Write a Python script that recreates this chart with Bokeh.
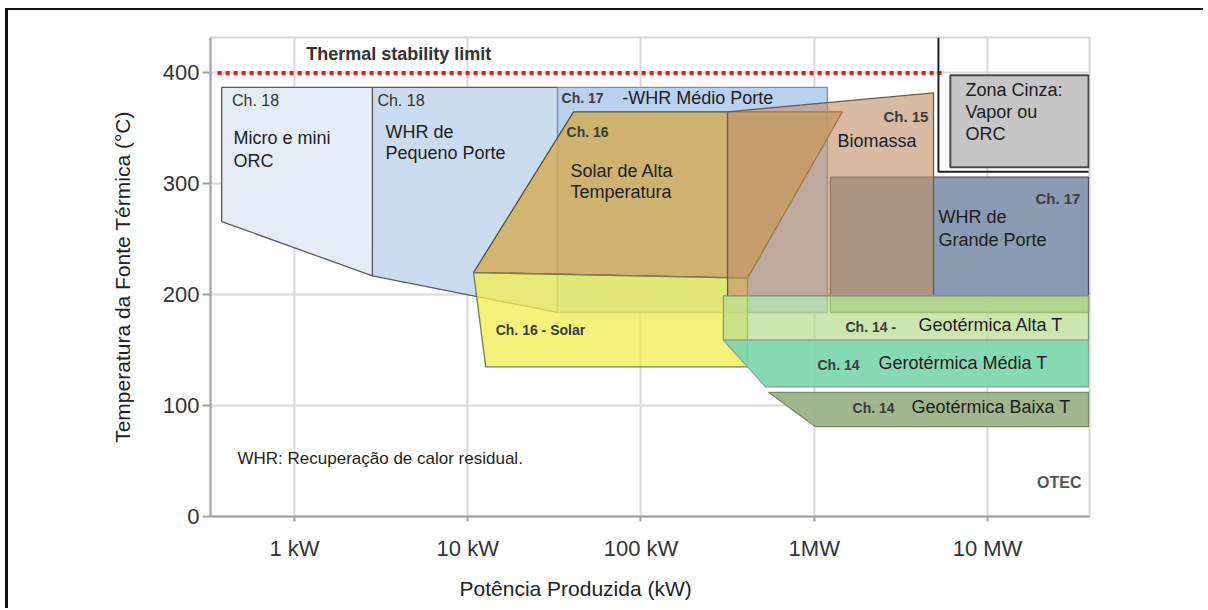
from bokeh.plotting import figure
from bokeh.models import ColumnDataSource, FixedTicker, Range1d, Title
from bokeh.core.properties import value
from bokeh.embed import file_html
from bokeh.resources import INLINE

FONT = "Liberation Sans"

# ---------------- data (power in kW, temperature in °C) ----------------
micro_kw = [0.38, 2.82, 2.82, 0.38]
micro_t = [387, 387, 217, 266]

whr_peq_kw = [2.82, 33.0, 33.0, 2.82]
whr_peq_t = [387, 387, 184, 217]

whr_med_kw = [33.0, 1190, 1190, 33.0]
whr_med_t = [387, 387, 184, 184]

solar_alta_kw = [10.8, 40.8, 1456, 412]
solar_alta_t = [220, 365, 365, 215]

solar_kw = [10.8, 412, 412, 12.7]
solar_t = [220, 215, 135, 135]

whr_gr_kw = [1240, 38300, 38300, 1240]
whr_gr_t = [306, 306, 199, 199]

bio_kw = [316, 4880, 4880, 316]
bio_t = [365, 382, 199, 199]

geo_alta_sup_kw = [1240, 38300, 38300, 1240]
geo_alta_sup_t = [199, 199, 184, 184]

geo_alta_kw = [299, 38300, 38300, 299]
geo_alta_t = [199, 199, 159, 159]

geo_med_kw = [299, 38300, 38300, 523]
geo_med_t = [159, 159, 117, 117]

geo_baixa_kw = [545, 38300, 38300, 1016]
geo_baixa_t = [112, 112, 81, 81]

cinza_kw = [6100, 38300, 38300, 6100]
cinza_t = [398, 398, 315, 315]

cinza_frame_kw = [5210, 5210, 38300]
cinza_frame_t = [432, 311, 311]

limit_kw = [0.36, 5700]
limit_t = [400, 400]

tick_kw = [1, 10, 100, 1000, 10000]
tick_labels = ["1 kW", "10 kW", "100 kW", "1MW", "10 MW"]
tick_t = [0, 100, 200, 300, 400]

# labels
main_text = ["Micro e mini", "ORC", "WHR de", "Pequeno Porte", "-WHR Médio Porte",
             "Solar de Alta", "Temperatura", "Biomassa", "Zona Cinza:", "Vapor ou", "ORC",
             "WHR de", "Grande Porte", "Geotérmica Alta T", "Gerotérmica Média T",
             "Geotérmica Baixa T"]
main_kw = [0.445, 0.445, 3.35, 3.35, 78, 39.2, 39.2, 1362, 7465, 7465, 7465,
           5213, 5213, 4000, 2350, 3640]
main_t = [341, 321, 347, 328, 377, 312, 292.5, 339, 385, 364.5, 345,
          270, 249, 173, 138.6, 99]

ch18_text = ["Ch. 18", "Ch. 18"]
ch18_kw = [0.436, 3.01]
ch18_t = [375, 375]

ch_text = ["Ch. 17", "Ch. 16", "Ch. 16 - Solar", "Ch. 14 -", "Ch. 14", "Ch. 14"]
ch_kw = [34.8, 37.2, 14.5, 1515, 1044, 1663]
ch_t = [377, 346.5, 168, 171, 137, 98]

chr_text = ["Ch. 15", "Ch. 17"]
chr_kw = [4560, 34400]
chr_t = [361, 287]

# ---------------- figure ----------------
p = figure(width=1198, height=600, x_axis_type="log",
           x_range=Range1d(0.3275, 38790), y_range=Range1d(0, 432),
           output_backend="svg", toolbar_location=None,
           min_border_left=202, min_border_right=117,
           min_border_top=27, min_border_bottom=90)
p.styles = {"border-top": "2px solid #111111", "border-left": "3px solid #111111",
            "margin-left": "5px", "margin-top": "8px"}

p.outline_line_color = "#d4d4d4"
p.outline_line_width = 2
p.background_fill_color = "white"

p.xgrid.ticker = FixedTicker(ticks=tick_kw)
p.ygrid.ticker = FixedTicker(ticks=tick_t)
for g in (p.xgrid, p.ygrid):
    g.grid_line_color = "#d9d9d9"
    g.grid_line_width = 2

p.xaxis.ticker = FixedTicker(ticks=tick_kw)
p.xaxis.major_label_overrides = dict(zip(tick_kw, tick_labels))
p.yaxis.ticker = FixedTicker(ticks=tick_t)

for ax in (p.xaxis, p.yaxis):
    ax.axis_line_color = "#a0a0a0"
    ax.axis_line_width = 2
    ax.major_tick_line_color = "#a0a0a0"
    ax.major_tick_line_width = 2
    ax.major_tick_in = 0
    ax.minor_tick_line_color = None
    ax.major_label_text_font = FONT
    ax.major_label_text_font_size = "22px"
    ax.major_label_text_color = "#333333"
p.yaxis.major_tick_out = 8
p.yaxis.major_label_standoff = 3
p.xaxis.major_tick_out = 5
p.xaxis.major_label_standoff = 14

p.yaxis.axis_label = "Temperatura da Fonte Térmica (°C)"
p.yaxis.axis_label_text_font = FONT
p.yaxis.axis_label_text_font_size = "21px"
p.yaxis.axis_label_text_font_style = "normal"
p.yaxis.axis_label_text_color = "#222222"
p.yaxis.axis_label_standoff = 26

# x axis title, placed left of centre as in the reference
p.add_layout(Title(text="Potência Produzida (kW)", align="left", offset=249,
                   text_font=FONT, text_font_size="21px", text_font_style="normal",
                   text_color="#222222", standoff=22), "below")

# ---------------- regions ----------------
LINE = "#5a5a5a"
regions = [
    (micro_kw, micro_t, "#e4ecf7", 1.0, LINE),
    (whr_peq_kw, whr_peq_t, "#cbdbf0", 1.0, LINE),
    (whr_med_kw, whr_med_t, "#b9d1f0", 1.0, "#7d8ea8"),
    (solar_alta_kw, solar_alta_t, "#d4aa50", 0.8, "#5e5226"),
    (solar_kw, solar_t, "#f2ee50", 0.75, "#7a7a50"),
    (whr_gr_kw, whr_gr_t, "#8a9ab2", 1.0, "#4a4f5a"),
    (bio_kw, bio_t, "#c0906a", 0.62, "#6a5a4a"),
    (geo_alta_sup_kw, geo_alta_sup_t, "#9dbd7f", 0.9, "#6a7a5a"),
    (geo_alta_kw, geo_alta_t, "#b7db8d", 0.7, "#8a9a80"),
    (geo_med_kw, geo_med_t, "#78d6ac", 0.9, "#8aa898"),
    (geo_baixa_kw, geo_baixa_t, "#9bb387", 0.95, "#7a8a70"),
]
for xs, ys, fc, fa, lc in regions:
    p.patch(xs, ys, fill_color=fc, fill_alpha=fa, line_color=lc, line_width=1.3)

# thermal stability limit
p.line(limit_kw, limit_t, line_color="#e8191c", line_width=4, line_dash="4 4")

# grey zone
p.line(cinza_frame_kw, cinza_frame_t, line_color="#222222", line_width=2)
p.patch(cinza_kw, cinza_t, fill_color="#c6c6c6", line_color="#4a4a4a", line_width=2)

# ---------------- texts ----------------
src_main = ColumnDataSource(dict(x=main_kw, y=main_t, text=main_text))
p.text("x", "y", "text", source=src_main, text_font=value(FONT), text_font_size="18px",
       text_color="#1e1e1e", text_baseline="middle", text_align="left")

src_18 = ColumnDataSource(dict(x=ch18_kw, y=ch18_t, text=ch18_text))
p.text("x", "y", "text", source=src_18, text_font=value(FONT), text_font_size="16px",
       text_color="#333333", text_baseline="middle", text_align="left")

src_ch = ColumnDataSource(dict(x=ch_kw, y=ch_t, text=ch_text))
p.text("x", "y", "text", source=src_ch, text_font=value(FONT), text_font_size="14px",
       text_font_style="bold", text_color="#3c3c3c", text_baseline="middle", text_align="left")

src_chr = ColumnDataSource(dict(x=chr_kw, y=chr_t, text=chr_text))
p.text("x", "y", "text", source=src_chr, text_font=value(FONT), text_font_size="15px",
       text_font_style="bold", text_color="#3c3c3c", text_baseline="middle", text_align="right")

p.text(x=[34900], y=[30.6], text=["OTEC"], text_font=value(FONT), text_font_size="16px",
       text_font_style="bold", text_color="#555555", text_baseline="middle", text_align="right")

p.text(x=[1.17], y=[417], text=["Thermal stability limit"], text_font=value(FONT),
       text_font_size="18px", text_font_style="bold", text_color="#333333",
       text_baseline="middle", text_align="left")

p.text(x=[0.469], y=[52], text=["WHR: Recuperação de calor residual."], text_font=value(FONT),
       text_font_size="17px", text_color="#1e1e1e", text_baseline="middle", text_align="left")

open("out.html", "w").write(file_html(p, INLINE))
